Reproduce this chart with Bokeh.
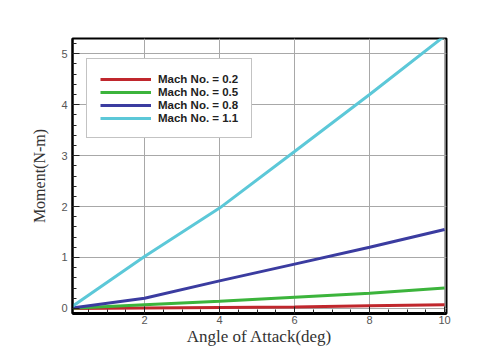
from bokeh.plotting import figure
from bokeh.models import Range1d, Legend, LegendItem, FixedTicker
from bokeh.embed import file_html
from bokeh.resources import INLINE

angle = [0, 2, 4, 6, 8, 10]
mach_02 = [0.0, 0.01, 0.02, 0.03, 0.05, 0.07]
mach_05 = [0.0, 0.07, 0.14, 0.22, 0.30, 0.40]
mach_08 = [0.0, 0.20, 0.54, 0.87, 1.20, 1.55]
mach_11 = [0.0, 1.02, 1.97, 3.08, 4.20, 5.35]
labels = ["Mach No. = 0.2", "Mach No. = 0.5", "Mach No. = 0.8", "Mach No. = 1.1"]
colors = ["#c0272d", "#3cb43c", "#3b3ca0", "#5cc8d8"]
x_ticks = [2, 4, 6, 8, 10]
y_ticks = [0, 1, 2, 3, 4, 5]

p = figure(width=496, height=348, output_backend="svg", toolbar_location=None,
           x_range=Range1d(0.08, 10.05), y_range=Range1d(-0.1, 5.3),
           min_border_left=72, min_border_right=50, min_border_top=38, min_border_bottom=35)
p.background_fill_color = "white"
p.border_fill_color = "white"
p.outline_line_color = "black"
p.outline_line_width = 2

renderers = []
for ys, c in zip([mach_02, mach_05, mach_08, mach_11], colors):
    r = p.line(angle, ys, line_color=c, line_width=3)
    renderers.append(r)

p.xaxis.ticker = FixedTicker(ticks=x_ticks, minor_ticks=[i * 0.5 for i in range(1, 21)])
p.yaxis.ticker = FixedTicker(ticks=y_ticks, minor_ticks=[i * 0.2 for i in range(0, 27)])
for ax in [p.xaxis[0], p.yaxis[0]]:
    ax.major_tick_in = 7
    ax.major_tick_out = 0
    ax.minor_tick_in = 4
    ax.minor_tick_out = 0
    ax.major_tick_line_color = "#222222"
    ax.minor_tick_line_color = "#222222"
    ax.axis_line_color = "black"
    ax.major_label_text_font = "Liberation Sans"
    ax.major_label_text_font_size = "11px"
    ax.major_label_text_color = "#555555"
    ax.axis_label_text_font = "Liberation Serif"
    ax.axis_label_text_font_style = "normal"
    ax.axis_label_text_color = "#333333"
p.xaxis.axis_line_width = 3
p.yaxis.axis_line_width = 2
p.xaxis.major_label_standoff = 2
p.yaxis.major_label_standoff = 5
p.xaxis.axis_label = "Angle of Attack(deg)"
p.yaxis.axis_label = "Moment(N-m)"
p.xaxis.axis_label_text_font_size = "17px"
p.yaxis.axis_label_text_font_size = "16px"
p.xaxis.axis_label_standoff = 0
p.yaxis.axis_label_standoff = 10

p.xgrid.ticker = FixedTicker(ticks=x_ticks)
p.ygrid.ticker = FixedTicker(ticks=y_ticks)
p.grid.grid_line_color = "#a8a8a8"
p.grid.grid_line_width = 1

items = [LegendItem(label=l, renderers=[r]) for l, r in zip(labels, renderers)]
legend = Legend(items=items, location=(14, 175), margin=0, padding=13, spacing=0,
                glyph_width=51, glyph_height=12, label_height=13, label_standoff=7,
                label_text_font="Liberation Sans", label_text_font_style="bold",
                label_text_font_size="11.5px", label_text_color="#222222",
                border_line_color="#888888", border_line_width=1,
                background_fill_color="white", background_fill_alpha=1.0)
p.add_layout(legend, "center")

open("out.html", "w").write(file_html(p, INLINE))
